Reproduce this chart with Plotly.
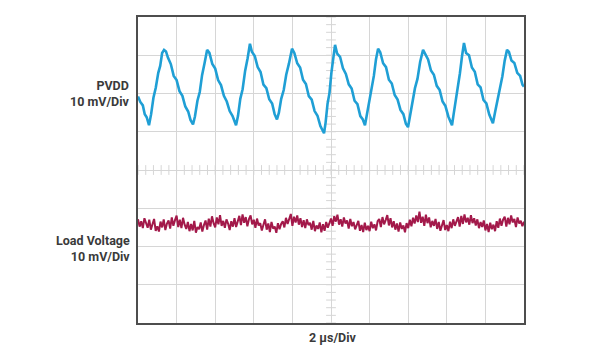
import plotly.graph_objects as go

# ---- Data (read from the scope capture): time in µs, voltage in mV (10 mV/div, 2 µs/div)
pvdd_t = [0.00, 0.12, 0.25, 0.35, 0.45, 0.57,
          0.68, 0.80, 0.92, 1.05, 1.15, 1.25, 1.35, 1.45,
          1.55, 1.70, 1.85, 2.00, 2.15, 2.30, 2.45, 2.60, 2.72, 2.85,
          2.95, 3.08, 3.20, 3.32, 3.45, 3.58,
          3.70, 3.85, 4.00, 4.15, 4.30, 4.45, 4.60, 4.75, 4.90, 5.08,
          5.18, 5.30, 5.42, 5.55, 5.68, 5.80,
          5.90, 6.05, 6.20, 6.35, 6.50, 6.65, 6.80, 6.95, 7.08, 7.20,
          7.30, 7.42, 7.55, 7.68, 7.82, 7.98,
          8.10, 8.25, 8.40, 8.55, 8.70, 8.85, 9.00, 9.15, 9.30, 9.45, 9.64,
          9.72, 9.82, 9.92, 10.02, 10.12, 10.21,
          10.32, 10.47, 10.62, 10.77, 10.92, 11.07, 11.22, 11.37, 11.52, 11.64, 11.76,
          11.86, 11.98, 12.10, 12.22, 12.33, 12.44,
          12.55, 12.70, 12.85, 13.00, 13.15, 13.30, 13.45, 13.60, 13.75, 13.88, 13.99,
          14.10, 14.22, 14.35, 14.48, 14.62, 14.77,
          14.88, 15.03, 15.18, 15.33, 15.48, 15.63, 15.78, 15.93, 16.08, 16.27,
          16.36, 16.47, 16.58, 16.68, 16.79, 16.89,
          17.00, 17.15, 17.30, 17.45, 17.60, 17.75, 17.90, 18.05, 18.20, 18.39,
          18.50, 18.62, 18.75, 18.88, 19.00, 19.12,
          19.22, 19.35, 19.50, 19.65, 19.80, 19.92, 20.00]
pvdd_mv = [19.2, 17.8, 16.9, 14.6, 13.8, 11.7,
           14.6, 18.9, 21.5, 25.4, 27.2, 30.6, 31.4, 31.0,
           29.4, 27.7, 24.6, 23.5, 20.6, 19.4, 16.6, 15.3, 13.1, 11.9,
           14.0, 18.1, 20.4, 24.8, 28.0, 31.4,
           30.6, 27.7, 26.5, 23.5, 22.2, 19.4, 17.9, 15.4, 14.1, 11.7,
           14.1, 18.6, 21.1, 25.9, 29.2, 33.0,
           30.9, 29.8, 26.9, 25.6, 22.3, 21.4, 18.5, 17.4, 14.6, 13.2,
           15.0, 18.6, 20.9, 24.9, 27.8, 31.7,
           30.6, 27.9, 26.8, 23.6, 22.5, 19.3, 18.4, 15.4, 14.2, 11.5, 9.6,
           12.4, 17.3, 20.1, 25.4, 28.6, 32.7,
           30.4, 29.6, 26.6, 25.1, 22.4, 21.3, 18.1, 17.2, 14.1, 13.3, 11.7,
           14.6, 17.6, 21.9, 24.6, 28.9, 31.7,
           30.8, 27.9, 26.9, 23.6, 22.6, 19.6, 18.4, 15.7, 14.6, 12.1, 11.2,
           14.2, 16.9, 21.4, 23.8, 28.3, 31.4,
           30.5, 28.9, 26.0, 24.9, 22.0, 20.9, 17.9, 16.7, 14.0, 11.7,
           14.8, 18.1, 22.4, 25.3, 29.8, 33.2,
           30.6, 30.0, 26.8, 25.7, 22.4, 21.6, 18.3, 17.4, 14.5, 12.2,
           15.1, 17.9, 21.8, 24.5, 28.6, 31.4,
           30.9, 28.6, 28.0, 25.4, 24.6, 22.3, 21.8]

load_mv = [-12.9, -14.8, -13.4, -15.2, -12.6, -13.9, -15.1, -13.0, -15.6, -14.2,
           -12.8, -15.9, -14.7, -16.1, -13.5, -15.0, -12.9, -15.7, -14.0, -13.2,
           -15.3, -12.4, -14.6, -13.1, -11.9, -14.9, -13.0, -15.2, -12.5, -14.3,
           -15.4, -13.6, -16.0, -14.1, -15.8, -13.3, -16.4, -14.9, -15.5, -13.7,
           -16.1, -14.4, -13.2, -15.6, -12.7, -14.8, -12.1, -13.9, -15.0, -12.4,
           -14.2, -11.8, -14.6, -13.3, -15.1, -12.9, -14.0, -15.7, -13.4, -14.8,
           -12.6, -14.9, -13.5, -12.0, -14.4, -11.6, -13.8, -12.3, -14.7, -12.8,
           -11.9, -14.2, -13.0, -15.1, -12.7, -14.5, -13.9, -15.8, -14.3, -12.9,
           -15.6, -14.0, -16.2, -13.6, -15.3, -14.8, -16.4, -13.9, -15.5, -14.1,
           -13.4, -15.0, -12.5, -14.1, -12.8, -11.5, -14.6, -12.2, -13.7, -11.9,
           -14.3, -12.6, -14.9, -13.1, -15.2, -12.9, -14.4, -13.8, -15.6, -13.3,
           -16.0, -14.5, -15.4, -13.7, -16.3, -14.2, -15.9, -13.6, -15.1, -14.0,
           -12.7, -14.6, -12.1, -13.5, -11.7, -14.3, -12.9, -14.8, -12.4, -14.0,
           -13.2, -15.3, -12.8, -14.7, -13.6, -15.5, -14.1, -13.3, -15.9, -14.4,
           -16.2, -13.8, -15.7, -14.6, -16.0, -13.5, -15.2, -14.2, -15.8, -13.4,
           -12.8, -14.9, -12.3, -14.2, -13.1, -11.8, -14.5, -12.6, -15.0, -13.4,
           -15.6, -14.0, -16.1, -13.7, -15.4, -14.5, -16.3, -13.9, -15.2, -13.0,
           -14.7, -12.5, -14.0, -11.9, -13.6, -10.9, -13.8, -12.2, -14.6, -11.7,
           -13.9, -12.4, -15.0, -13.3, -14.6, -12.8, -15.4, -13.6, -15.9, -14.2,
           -13.1, -15.7, -14.4, -16.0, -13.5, -15.2, -12.9, -14.6, -13.4, -12.3,
           -14.8, -12.0, -14.1, -11.6, -13.7, -12.5, -14.3, -11.8, -13.9, -12.6,
           -14.5, -12.9, -15.2, -13.6, -14.9, -13.2, -15.8, -14.1, -16.2, -13.8,
           -15.5, -14.3, -16.0, -13.4, -15.1, -12.7, -14.6, -13.0, -12.2, -14.8,
           -12.5, -14.2, -11.9, -13.7, -12.8, -14.9, -12.4, -14.0, -13.3, -14.7,
           -13.5]
load_t = [i * 20.0 / (len(load_mv) - 1) for i in range(len(load_mv))]

# scope graticule: 10 x 8 divisions, 5 minor marks per division on centre lines
x_range = [0, 20]
y_range = [-40, 40]
minor_x = [i * 0.4 for i in range(51)]
minor_y = [-40 + i * 2 for i in range(41)]

label_color = "#3a3a3a"
grid_color = "#d6d6d6"

fig = go.Figure()

# centre-line minor tick marks
fig.add_trace(go.Scatter(x=minor_x, y=[0] * len(minor_x), mode="markers",
                         marker=dict(symbol="line-ns", size=7,
                                     line=dict(color=grid_color, width=1)),
                         hoverinfo="skip", showlegend=False))
fig.add_trace(go.Scatter(x=[10] * len(minor_y), y=minor_y, mode="markers",
                         marker=dict(symbol="line-ew", size=7,
                                     line=dict(color=grid_color, width=1)),
                         hoverinfo="skip", showlegend=False))

fig.add_trace(go.Scatter(x=pvdd_t, y=pvdd_mv, mode="lines",
                         line=dict(color="#1f9fd5", width=2.6),
                         showlegend=False, name="PVDD"))
fig.add_trace(go.Scatter(x=load_t, y=load_mv, mode="lines",
                         line=dict(color="#a3194a", width=2),
                         showlegend=False, name="Load Voltage"))

fig.update_xaxes(range=x_range, dtick=2, showgrid=True, gridcolor=grid_color,
                 gridwidth=1, zeroline=False, showticklabels=False, ticks="",
                 showline=True, linecolor="#4d4d4d", linewidth=1.5, mirror=True)
fig.update_yaxes(range=y_range, dtick=10, showgrid=True, gridcolor=grid_color,
                 gridwidth=1, zeroline=False, showticklabels=False, ticks="",
                 showline=True, linecolor="#4d4d4d", linewidth=1.5, mirror=True)

font = dict(family="Roboto, Arial, sans-serif", size=12.5, color=label_color)
fig.add_annotation(text="<b>PVDD</b><br><b>10 mV/Div</b>", xref="paper", yref="paper",
                   x=-0.015, y=0.749, xanchor="right", yanchor="middle", align="right",
                   showarrow=False, font=font)
fig.add_annotation(text="<b>Load Voltage</b><br><b>10 mV/Div</b>", xref="paper", yref="paper",
                   x=-0.015, y=0.245, xanchor="right", yanchor="middle", align="right",
                   showarrow=False, font=font)
fig.add_annotation(text="<b>2 µs/Div</b>", xref="paper", yref="paper", x=0.503, y=-0.049,
                   xanchor="center", yanchor="middle", showarrow=False, font=font)

fig.update_layout(width=583, height=351,
                  margin=dict(l=130, r=67, t=7, b=36),
                  paper_bgcolor="white", plot_bgcolor="white")

fig.write_html("out.html")
